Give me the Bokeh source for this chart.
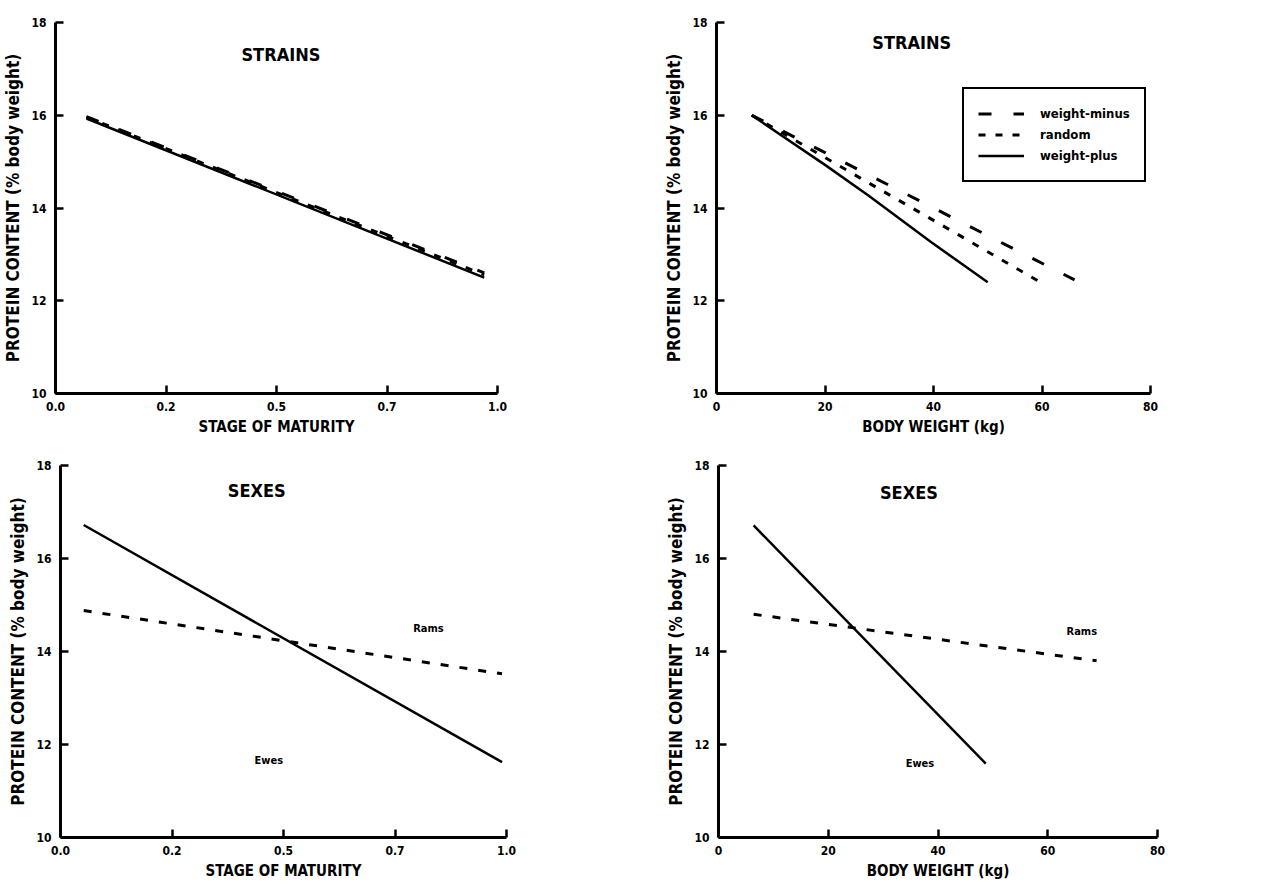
from bokeh.plotting import figure
from bokeh.layouts import column, row
from bokeh.models import Range1d, FixedTicker, Label, Legend, LegendItem
from bokeh.embed import file_html
from bokeh.resources import INLINE

# ---------------- data ----------------
y_ticks = [10, 12, 14, 16, 18]
y_tick_labels = ["10", "12", "14", "16", "18"]

maturity_ticks = [0.0, 0.25, 0.5, 0.75, 1.0]
maturity_tick_labels = ["0.0", "0.2", "0.5", "0.7", "1.0"]

bw_ticks = [0, 20, 40, 60, 80]
bw_tick_labels = ["0", "20", "40", "60", "80"]

# Strains vs stage of maturity
strain_mat_x = [0.07, 0.97]
strain_mat_minus = [15.97, 12.60]
strain_mat_random = [15.96, 12.56]
strain_mat_plus = [15.93, 12.50]

# Strains vs body weight
strain_bw_minus_x = [6.5, 66.0]
strain_bw_minus_y = [16.0, 12.45]
strain_bw_random_x = [6.5, 60.0]
strain_bw_random_y = [16.0, 12.38]
strain_bw_plus_x = [6.5, 20.0, 28.0, 39.6, 50.0]
strain_bw_plus_y = [16.0, 14.93, 14.27, 13.26, 12.40]

# Sexes vs stage of maturity
sex_mat_x = [0.052, 0.99]
sex_mat_ewes = [16.72, 11.62]
sex_mat_rams = [14.88, 13.52]

# Sexes vs body weight
sex_bw_ewes_x = [6.4, 48.7]
sex_bw_ewes_y = [16.71, 11.59]
sex_bw_rams_x = [6.4, 68.9]
sex_bw_rams_y = [14.80, 13.80]

FONT = "DejaVu Sans Condensed"


def make_fig(width, height, left, right, top, bottom, xmax, xticks, xlabels, xlabel):
    p = figure(width=width, height=height,
               min_border_left=left, min_border_right=right,
               min_border_top=top, min_border_bottom=bottom,
               x_range=Range1d(0, xmax), y_range=Range1d(10, 18),
               output_backend="svg", toolbar_location=None)
    p.grid.visible = False
    p.outline_line_color = None
    p.background_fill_color = "white"
    p.border_fill_color = "white"

    p.xaxis.ticker = FixedTicker(ticks=xticks)
    p.xaxis.major_label_overrides = {t: l for t, l in zip(xticks, xlabels)}
    p.yaxis.ticker = FixedTicker(ticks=y_ticks)
    p.yaxis.major_label_overrides = {t: l for t, l in zip(y_ticks, y_tick_labels)}

    for ax in (p.xaxis, p.yaxis):
        ax.axis_line_width = 3
        ax.axis_line_color = "black"
        ax.major_tick_line_width = 2.5
        ax.major_tick_line_color = "black"
        ax.major_tick_in = 8
        ax.major_tick_out = 0
        ax.minor_tick_line_color = None
        ax.major_label_text_font = FONT
        ax.major_label_text_font_style = "bold"
        ax.major_label_text_color = "black"
        ax.axis_label_text_font = FONT
        ax.axis_label_text_font_style = "bold"
        ax.axis_label_text_color = "black"

    p.xaxis.axis_label = xlabel
    p.xaxis.axis_label_text_font_size = "15px"
    p.xaxis.major_label_text_font_size = "12px"
    p.xaxis.major_label_standoff = 8
    p.xaxis.axis_label_standoff = 4

    p.yaxis.axis_label = "PROTEIN CONTENT (% body weight)"
    p.yaxis.axis_label_text_font_size = "17px"
    p.yaxis.major_label_text_font_size = "12px"
    p.yaxis.major_label_standoff = 9
    p.yaxis.axis_label_standoff = 5
    return p


def add_text(p, x, y, text, size):
    p.add_layout(Label(x=x, y=y, text=text, text_font=FONT, text_font_style="bold",
                       text_font_size=size, text_color="black",
                       text_align="center", text_baseline="middle"))


# ---------- Panel 1: strains vs maturity ----------
p1 = make_fig(640, 445, 53, 143, 20, 52, 1.0, maturity_ticks, maturity_tick_labels,
              "STAGE OF MATURITY")
p1.line(strain_mat_x, strain_mat_plus, line_color="black", line_width=2.5)
p1.line(strain_mat_x, strain_mat_random, line_color="black", line_width=3, line_dash="7 10")
p1.line(strain_mat_x, strain_mat_minus, line_color="black", line_width=3, line_dash="13 22")
add_text(p1, 0.51, 17.3, "STRAINS", "18px")

# ---------- Panel 2: strains vs body weight ----------
p2 = make_fig(622, 445, 76, 112, 22, 43, 80, bw_ticks, bw_tick_labels, "BODY WEIGHT (kg)")
r_minus = p2.line(strain_bw_minus_x, strain_bw_minus_y, line_color="black", line_width=3,
                  line_dash="13 22")
r_random = p2.line(strain_bw_random_x, strain_bw_random_y, line_color="black", line_width=3,
                   line_dash="7 10")
r_plus = p2.line(strain_bw_plus_x, strain_bw_plus_y, line_color="black", line_width=2.5)
add_text(p2, 36, 17.56, "STRAINS", "18px")
legend = Legend(items=[LegendItem(label="weight-minus", renderers=[r_minus]),
                       LegendItem(label="random", renderers=[r_random]),
                       LegendItem(label="weight-plus", renderers=[r_plus])],
                location=(246, 211), glyph_width=46, glyph_height=21, label_height=21,
                label_standoff=16, spacing=0, padding=14, margin=0,
                border_line_color="black", border_line_width=2, border_line_alpha=1,
                background_fill_color="white", background_fill_alpha=1,
                label_text_font=FONT, label_text_font_style="bold",
                label_text_font_size="13px", label_text_color="black")
p2.add_layout(legend)

# ---------- Panel 3: sexes vs maturity ----------
p3 = make_fig(640, 443, 60, 134, 12, 51, 1.0, maturity_ticks, maturity_tick_labels,
              "STAGE OF MATURITY")
p3.line(sex_mat_x, sex_mat_ewes, line_color="black", line_width=2.5)
p3.line(sex_mat_x, sex_mat_rams, line_color="black", line_width=3, line_dash="8 11")
add_text(p3, 0.44, 17.46, "SEXES", "18px")
add_text(p3, 0.825, 14.5, "Rams", "11px")
add_text(p3, 0.467, 11.66, "Ewes", "11px")

# ---------- Panel 4: sexes vs body weight ----------
p4 = make_fig(622, 443, 78, 105, 20, 46, 80, bw_ticks, bw_tick_labels, "BODY WEIGHT (kg)")
p4.line(sex_bw_ewes_x, sex_bw_ewes_y, line_color="black", line_width=2.5)
p4.line(sex_bw_rams_x, sex_bw_rams_y, line_color="black", line_width=3, line_dash="8 11")
add_text(p4, 34.7, 17.43, "SEXES", "18px")
add_text(p4, 66.2, 14.44, "Rams", "11px")
add_text(p4, 36.7, 11.6, "Ewes", "11px")

layout = column(row(p1, p2, spacing=0), row(p3, p4, spacing=0), spacing=0)
open("out.html", "w").write(file_html(layout, INLINE))
